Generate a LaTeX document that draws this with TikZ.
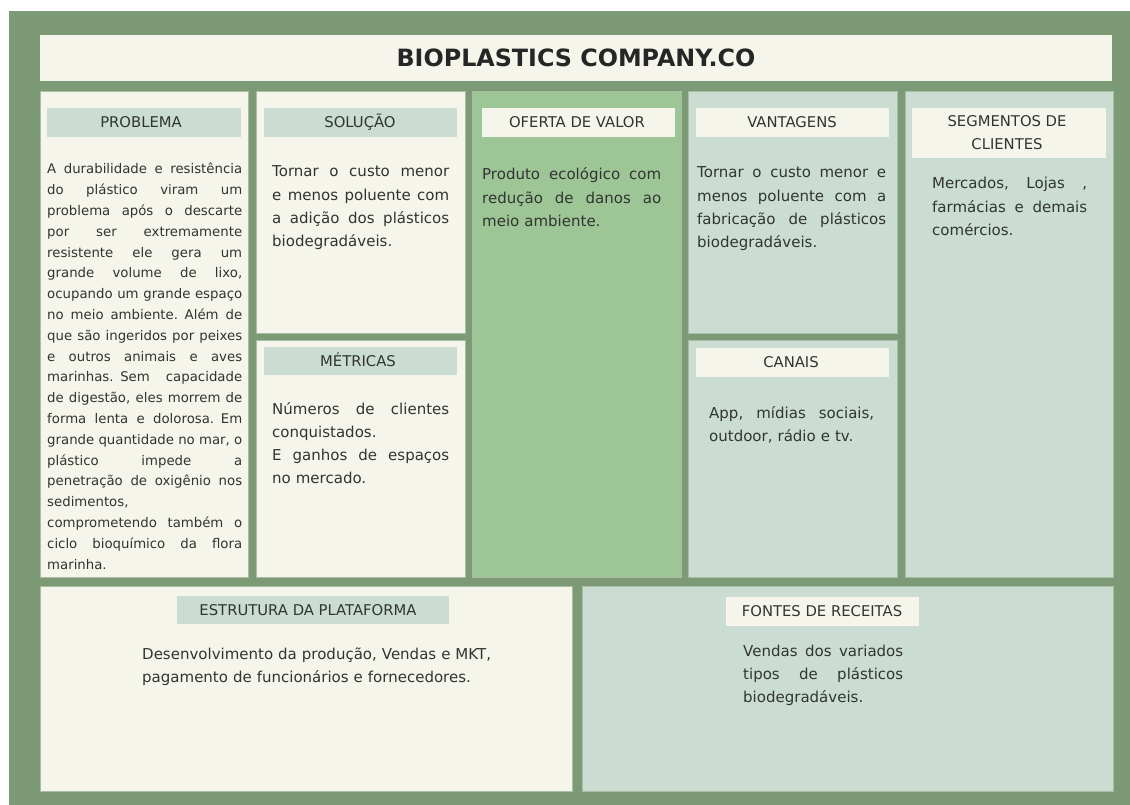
\documentclass[tikz,border=0pt]{standalone}
\usepackage{fontspec}
\setmainfont{DejaVu Sans}
\definecolor{frame}{RGB}{125,154,118}
\definecolor{cream}{RGB}{245,245,235}
\definecolor{sage}{RGB}{203,221,210}
\definecolor{leaf}{RGB}{158,197,150}
\definecolor{ink}{RGB}{48,53,50}
\definecolor{edge}{RGB}{170,190,165}
\newlength\Wd
\newcommand\J[1]{\noindent\hbox to\Wd{\spaceskip=\fontdimen2\font plus 1fil minus \fontdimen4\font\relax#1}}
\hbadness=10000 \hfuzz=50pt
\begin{document}
\begin{tikzpicture}[x=1pt,y=-1pt,
  panel/.style={draw=edge,line width=0.8pt},
  body/.style={font=\fontsize{15}{23.3}\selectfont\frenchspacing,text=ink,inner sep=0pt,align=left,anchor=base west},
  bartext/.style={font=\fontsize{14.8}{23}\selectfont,text=ink,inner sep=0pt,anchor=base,align=center}]
\useasboundingbox (0,0) rectangle (1130,805);
\fill[white] (0,0) rectangle (1130,805);
\fill[frame] (9,11) rectangle (1130,805);
% header
\fill[cream] (40,35) rectangle (1112,81);
\node[font=\bfseries\fontsize{23.8}{28}\selectfont,text=black!85,inner sep=0pt,anchor=base] (title) at (576,67) {BIOPLASTICS COMPANY.CO};
% panels
\filldraw[panel,fill=cream] (40,91) rectangle (248,577);
\fill[sage] (47,108) rectangle (241,137);
\filldraw[panel,fill=cream] (256,91) rectangle (465,333);
\fill[sage] (264,108) rectangle (457,137);
\filldraw[panel,fill=cream] (256,340) rectangle (465,577);
\fill[sage] (264,347) rectangle (457,375);
\filldraw[panel,fill=leaf] (472,91) rectangle (681,577);
\fill[cream] (482,108) rectangle (675,137);
\filldraw[panel,fill=sage] (688,91) rectangle (897,333);
\fill[cream] (696,108) rectangle (889,137);
\filldraw[panel,fill=sage] (688,340) rectangle (897,577);
\fill[cream] (696,348) rectangle (889,377);
\filldraw[panel,fill=sage] (905,91) rectangle (1113,577);
\fill[cream] (912,108) rectangle (1106,158);
\filldraw[panel,fill=cream] (40,586) rectangle (572,791);
\fill[sage] (177,596) rectangle (449,624);
\filldraw[panel,fill=sage] (582,586) rectangle (1113,791);
\fill[cream] (726,597) rectangle (919,626);
% titles
\node[bartext] (tP) at (141,128) {PROBLEMA};
\node[bartext] (tS) at (360,128) {SOLUÇÃO};
\node[bartext] (tM) at (358,366) {MÉTRICAS};
\node[bartext] (tO) at (577,128) {OFERTA DE VALOR};
\node[bartext] (tV) at (792,128) {VANTAGENS};
\node[bartext] (tC) at (791,367.5) {CANAIS};
\node[bartext] (tG) at (1007,150) {SEGMENTOS DE\\CLIENTES};
\node[bartext] (tE) at (308,615) {ESTRUTURA DA PLATAFORMA};
\node[bartext] (tF) at (822,616.5) {FONTES DE RECEITAS};
% bodies
\node[body,text width=195pt,font=\fontsize{13.3}{20.8}\selectfont] (bP) at (47,174) {\Wd=195pt\relax
\J{A durabilidade e resistência}\\
\J{do plástico viram um}\\
\J{problema após o descarte}\\
\J{por ser extremamente}\\
\J{resistente ele gera um}\\
\J{grande volume de lixo,}\\
\J{ocupando um grande espaço}\\
\J{no meio ambiente. Além de}\\
\J{que são ingeridos por peixes}\\
\J{e outros animais e aves}\\
\J{marinhas. Sem capacidade}\\
\J{de digestão, eles morrem de}\\
\J{forma lenta e dolorosa. Em}\\
\J{grande quantidade no mar, o}\\
\J{plástico impede a}\\
\J{penetração de oxigênio nos}\\
sedimentos,\\
\J{comprometendo também o}\\
\J{ciclo bioquímico da flora}\\
marinha.};
\node[body,text width=177pt] (bS) at (272,177) {\Wd=177pt\relax
\J{Tornar o custo menor}\\
\J{e menos poluente com}\\
\J{a adição dos plásticos}\\
biodegradáveis.};
\node[body,text width=177pt] (bM) at (272,414) {\Wd=177pt\relax
\J{Números de clientes}\\
conquistados.\\
\J{E ganhos de espaços}\\
no mercado.};
\node[body,text width=179pt] (bO) at (482,180) {\Wd=179pt\relax
\J{Produto ecológico com}\\
\J{redução de danos ao}\\
meio ambiente.};
\node[body,text width=189pt] (bV) at (697,178) {\Wd=189pt\relax
\J{Tornar o custo menor e}\\
\J{menos poluente com a}\\
\J{fabricação de plásticos}\\
biodegradáveis.};
\node[body,text width=165pt] (bC) at (709,418) {\Wd=165pt\relax
\J{App, mídias sociais,}\\
outdoor, rádio e tv.};
\node[body,text width=155pt] (bG) at (932,189) {\Wd=155pt\relax
\J{Mercados, Lojas ,}\\
\J{farmácias e demais}\\
comércios.};
\node[body,text width=380pt] (bE) at (142,659) {%
Desenvolvimento da produção, Vendas e MKT,\\
pagamento de funcionários e fornecedores.};
\node[body,text width=160pt] (bF) at (743,656) {\Wd=160pt\relax
\J{Vendas dos variados}\\
\J{tipos de plásticos}\\
biodegradáveis.};
\end{tikzpicture}
\end{document}
